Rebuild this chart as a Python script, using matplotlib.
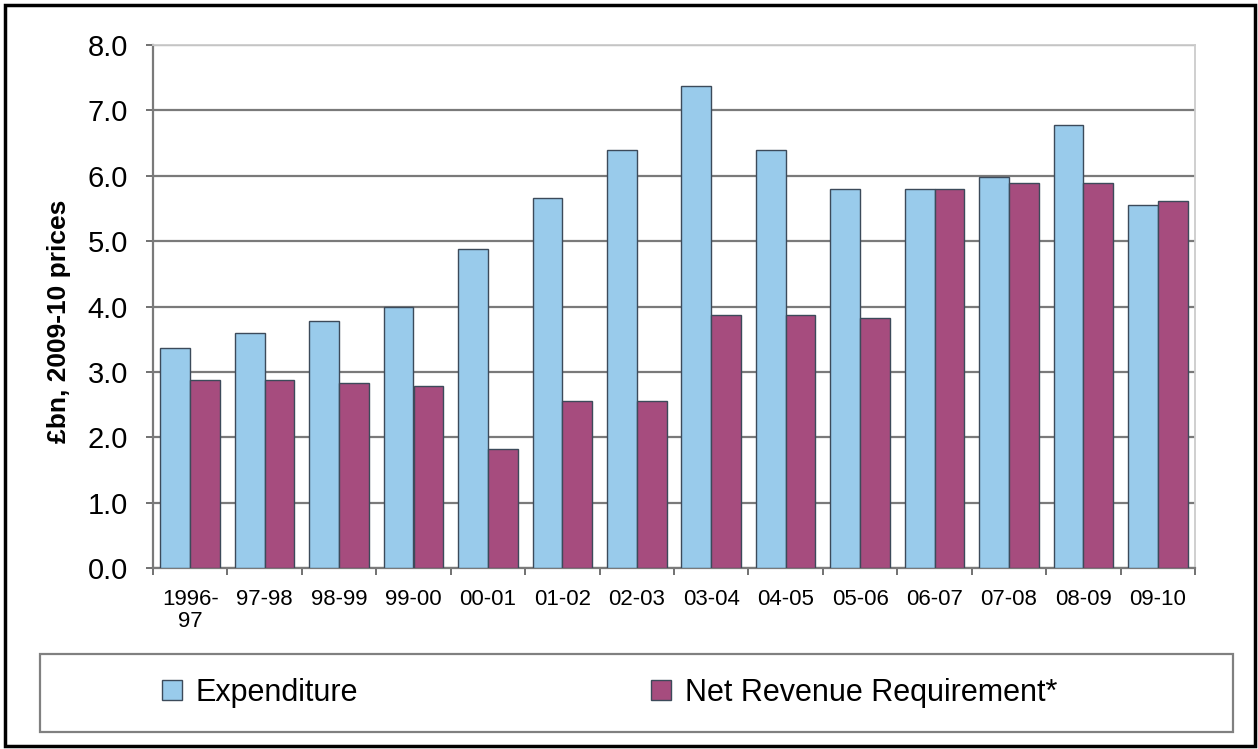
import numpy as np
import matplotlib
matplotlib.use("Agg")
import matplotlib.pyplot as plt
from matplotlib.patches import Rectangle, Patch

plt.rcParams['font.family'] = ['Liberation Sans', 'DejaVu Sans']

# data (£bn, 2009-10 prices)
years = ["1996-\n97", "97-98", "98-99", "99-00", "00-01", "01-02", "02-03",
         "03-04", "04-05", "05-06", "06-07", "07-08", "08-09", "09-10"]
expenditure = [3.37, 3.60, 3.78, 4.00, 4.88, 5.66, 6.39,
               7.37, 6.39, 5.80, 5.80, 5.98, 6.77, 5.56]
net_revenue = [2.87, 2.87, 2.83, 2.78, 1.82, 2.55, 2.55,
               3.87, 3.87, 3.82, 5.80, 5.89, 5.89, 5.61]

blue = "#99CBEB"
purple = "#A64C7E"
edge = "#3C4A5A"

W, H = 1258, 749
fig = plt.figure(figsize=(W / 100, H / 100), dpi=100)
ax = fig.add_axes([153 / W, 1 - 568 / H, 1042 / W, 523 / H])

x = np.arange(len(years))
w = 0.40
ax.bar(x - w / 2, expenditure, w, color=blue, edgecolor=edge, linewidth=1.0,
       zorder=3, label="Expenditure")
ax.bar(x + w / 2, net_revenue, w, color=purple, edgecolor=edge, linewidth=1.0,
       zorder=3, label="Net Revenue Requirement*")

ax.set_xlim(-0.5, len(years) - 0.5)
ax.set_ylim(0, 8)
ax.set_yticks(np.arange(0, 9, 1))
ax.set_yticklabels([f"{v:.1f}" for v in np.arange(0, 9, 1)], fontsize=21)
ax.yaxis.grid(True, color="#7a7a7a", linewidth=1.6, zorder=0)
ax.set_axisbelow(True)

# category labels in the middle, ticks on the boundaries
ax.set_xticks(x)
ax.set_xticklabels(years, fontsize=16, linespacing=1.05)
ax.tick_params(axis="x", which="major", length=0, pad=15)
ax.set_xticks(np.arange(-0.5, len(years), 1), minor=True)
ax.tick_params(axis="x", which="minor", length=5, width=1.3, color="#666666",
               direction="out")
ax.tick_params(axis="y", length=5, width=1.3, color="#666666", pad=13)

for s in ["left", "bottom"]:
    ax.spines[s].set_color("#7a7a7a")
    ax.spines[s].set_linewidth(1.6)
for s in ["top", "right"]:
    ax.spines[s].set_color("#cccccc")
    ax.spines[s].set_linewidth(1.3)

fig.text(59 / W, 1 - 321 / H, "£bn, 2009-10 prices", rotation=90,
         fontsize=19, fontweight="bold", ha="center", va="center")

# legend box spanning the bottom
fig.patches.append(Rectangle((40 / W, 1 - 732 / H), 1193 / W, 78 / H,
                             transform=fig.transFigure, fill=False,
                             edgecolor="#808080", linewidth=1.6))
handles = [Patch(facecolor=blue, edgecolor=edge, linewidth=1.0),
           Patch(facecolor=purple, edgecolor=edge, linewidth=1.0)]
fig.legend(handles, ["Expenditure", "Net Revenue Requirement*"],
           loc="center left", bbox_to_anchor=(162 / W, 1 - 693 / H),
           ncol=2, frameon=False, fontsize=22, handlelength=0.65,
           handleheight=0.65, handletextpad=0.45, columnspacing=9.6,
           borderpad=0, borderaxespad=0)

# outer black frame
fig.patches.append(Rectangle((5 / W, 3 / H), 1250 / W, 741 / H,
                             transform=fig.transFigure, fill=False,
                             edgecolor="black", linewidth=2.5))

fig.savefig("out.png", dpi=100)
